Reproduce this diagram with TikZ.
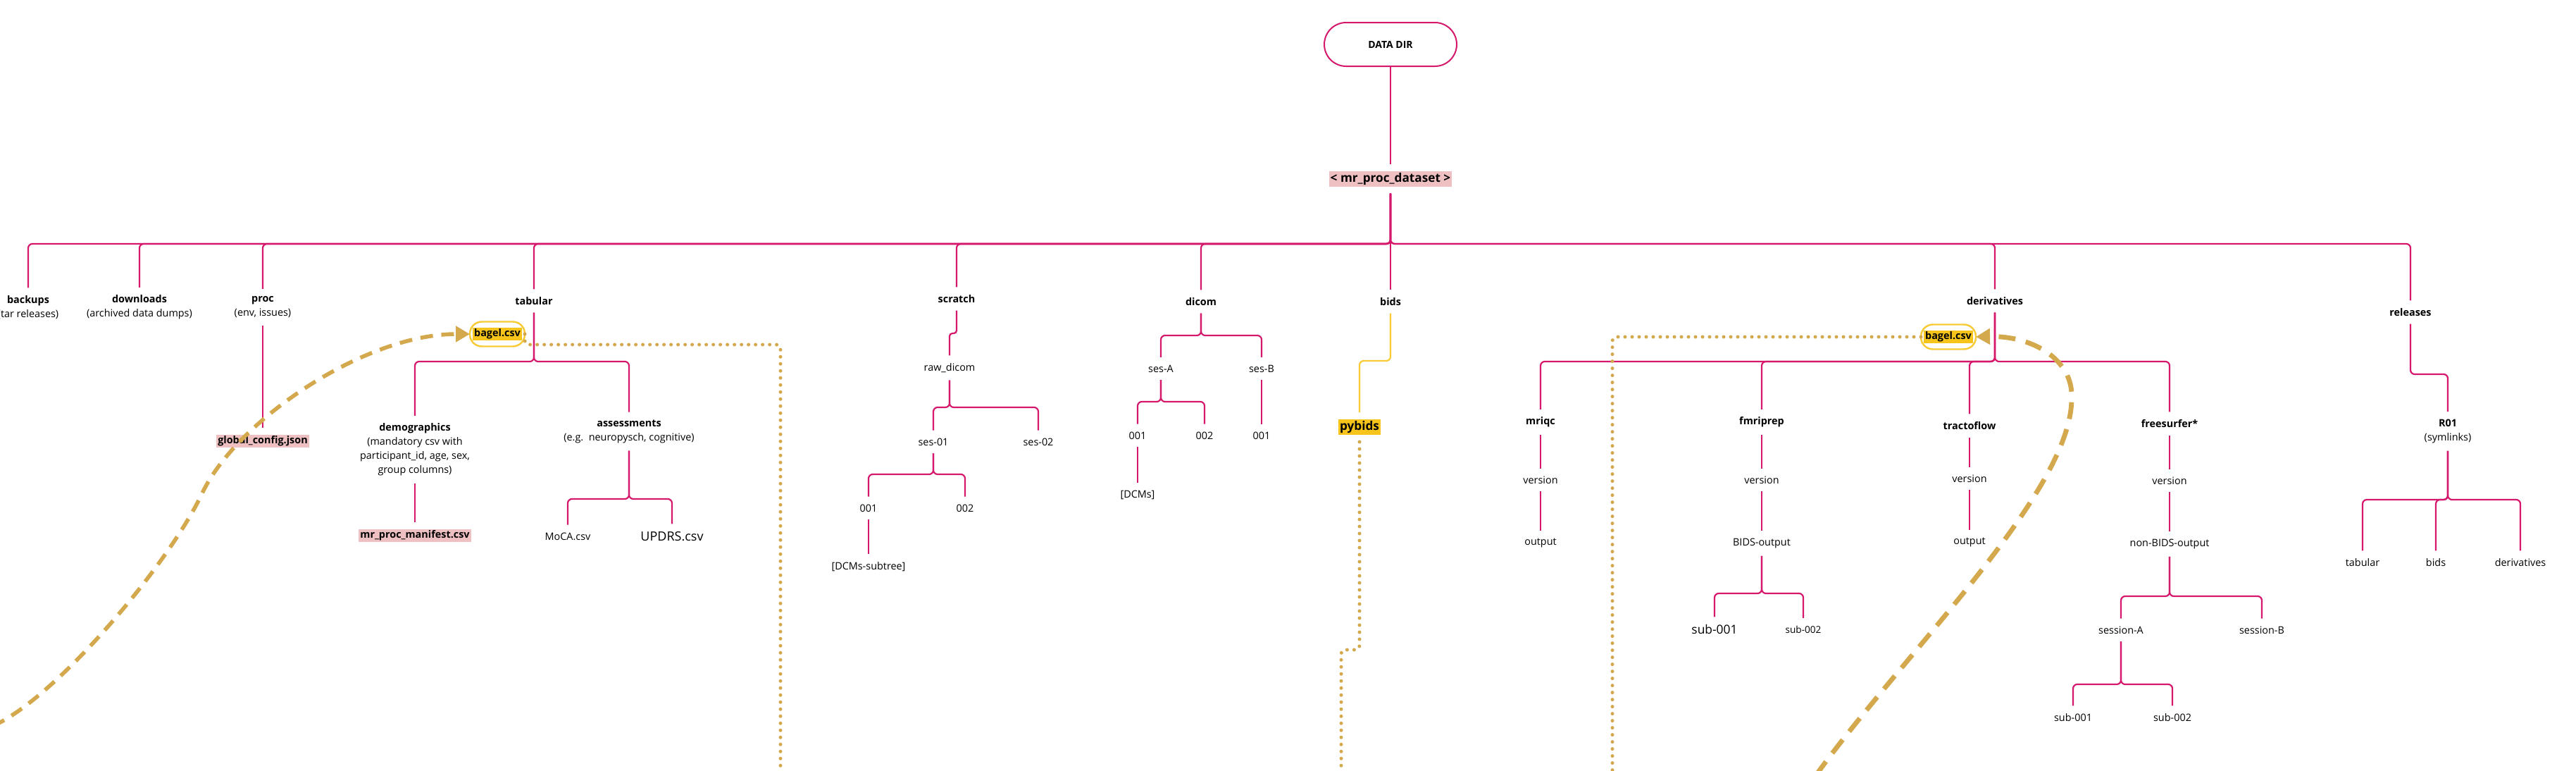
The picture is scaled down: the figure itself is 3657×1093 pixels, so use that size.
\documentclass[tikz,border=0pt]{standalone}
\usepackage{fontspec}
\setmainfont{Open Sans}
\usetikzlibrary{arrows.meta}

\definecolor{treepink}{RGB}{214,24,108}
\definecolor{linkgold}{RGB}{212,168,76}
\definecolor{bidsyellow}{RGB}{248,202,52}
\definecolor{hlyellow}{RGB}{246,196,26}
\definecolor{hlpink}{RGB}{238,192,194}
\setlength{\fboxsep}{1pt}

\begin{document}
\begin{tikzpicture}[x=0.5pt, y=-0.5pt, font=\fontsize{7.2}{10}\selectfont,
    every node/.style={align=center, inner sep=1.5pt, outer sep=4pt},
    folder/.style={font=\fontsize{7.2}{10}\selectfont\bfseries},
    hlfile/.style={fill=hlpink, inner sep=1pt, outer sep=5pt, font=\fontsize{7.2}{10}\selectfont\bfseries},
    bagelpill/.style={draw=bidsyellow, line width=1.2pt, fill=white, rounded corners=8.5pt,
        minimum width=39pt, minimum height=17.5pt, inner sep=1pt, outer sep=0pt,
        font=\fontsize{7.2}{10}\selectfont\bfseries},
    treeline/.style={draw=treepink, line width=1.1pt, rounded corners=3pt},
    dotlink/.style={draw=linkgold, line width=2.5pt, line cap=round, dash pattern=on 0pt off 5pt, rounded corners=3pt},
    dashlink/.style={draw=linkgold, line width=2.8pt, dash pattern=on 9pt off 6pt,
        -{Triangle[length=10pt,width=11pt]}}]

    % Page
    \useasboundingbox (0,0) rectangle (3657,1093);
    \clip (0,0) rectangle (3657,1093);
    \fill[white] (0,0) rectangle (3657,1093);

    % Root
    \node[draw=treepink, line width=1pt, rounded corners=15.5pt, minimum width=94pt, minimum height=31pt,
        outer sep=0pt, font=\fontsize{7}{9}\selectfont\bfseries] (datadir) at (1974,63) {DATA DIR};
    \node[hlfile, font=\fontsize{8.6}{10}\selectfont\bfseries] (dataset) at (1974,254) {< mr\_proc\_dataset >};
    \coordinate (mainbar) at (0,346);

    % Top Level Folders
    \node (backups) at (40,436) {\textbf{backups}\\(tar releases)};
    \node (downloads) at (198,436) {\textbf{downloads}\\(archived data dumps)};
    \node (proc) at (373,436) {\textbf{proc}\\(env, issues)};
    \node[folder] (tabular) at (758,427) {tabular};
    \node[folder] (scratch) at (1358,424) {scratch};
    \node[folder] (dicom) at (1705,428) {dicom};
    \node[folder] (bids) at (1974,428) {bids};
    \node[folder] (derivatives) at (2832,427) {derivatives};
    \node[folder] (releases) at (3422,443) {releases};

    % -- proc
    \node[hlfile] (gconf) at (373,626) {global\_config.json};

    % -- tabular
    \node[bagelpill] (bagelA) at (706,474) {\colorbox{hlyellow}{bagel.csv}};
    \coordinate (tabsplit) at (0,513);
    \node (demographics) at (589,638) {\textbf{demographics}\\(mandatory csv with\\participant\_id, age, sex,\\group columns)};
    \node[hlfile] (manifest) at (589,760) {mr\_proc\_manifest.csv};
    \node (assessments) at (893,612) {\textbf{assessments}\\(e.g.\ \ neuropysch, cognitive)};
    \coordinate (asssplit) at (0,708);
    \node (moca) at (806,761) {MoCA.csv};
    \node[font=\fontsize{9}{10}\selectfont] (updrs) at (954,761) {UPDRS.csv};

    % -- scratch
    \coordinate (scrjog) at (0,473);
    \node (rawdicom) at (1348,522) {raw\_dicom};
    \coordinate (rawsplit) at (0,578);
    \node (ses01) at (1325,627) {ses-01};
    \node (ses02) at (1474,627) {ses-02};
    \coordinate (ses01split) at (0,673);
    \node (scr001) at (1233,721) {001};
    \node (scr002) at (1370,721) {002};
    \node (dcmsubtree) at (1233,804) {[DCMs-subtree]};

    % -- dicom
    \coordinate (dicomsplit) at (0,476);
    \node (sesA) at (1648,523) {ses-A};
    \node (sesB) at (1791,523) {ses-B};
    \coordinate (sesAsplit) at (0,570);
    \node (dcmA1) at (1615,618) {001};
    \node (dcmA2) at (1710,618) {002};
    \node (dcmB1) at (1791,618) {001};
    \node (dcms) at (1615,702) {[DCMs]};

    % -- bids
    \coordinate (bidsjog) at (0,512);
    \node[fill=hlyellow, inner sep=1.2pt, outer sep=5pt, font=\fontsize{8.6}{10}\selectfont\bfseries] (pybids) at (1930,606) {pybids};

    % -- derivatives
    \node[bagelpill] (bagelB) at (2766,478) {\colorbox{hlyellow}{bagel.csv}};
    \coordinate (derivsplit) at (0,513);
    \node[folder] (mriqc) at (2187,599) {mriqc};
    \node (mriqcver) at (2187,681) {version};
    \node (mriqcout) at (2187,770) {output};
    \node[folder] (fmriprep) at (2501,599) {fmriprep};
    \node (fmriver) at (2501,681) {version};
    \node (fmribids) at (2501,771) {BIDS-output};
    \coordinate (fmrisplit) at (0,842);
    \node[font=\fontsize{8.7}{10}\selectfont] (fmrisub1) at (2434,893) {sub-001};
    \node[font=\fontsize{6.8}{10}\selectfont] (fmrisub2) at (2560,893) {sub-002};
    \node[folder] (tractoflow) at (2796,604) {tractoflow};
    \node (tractover) at (2796,679) {version};
    \node (tractoout) at (2796,769) {output};
    \node[folder] (freesurfer) at (3080,601) {freesurfer*};
    \node (fsver) at (3080,682) {version};
    \node (fsnonbids) at (3080,772) {non-BIDS-output};
    \coordinate (fssplit) at (0,846);
    \node (sessA) at (3011,894) {session-A};
    \node (sessB) at (3211,894) {session-B};
    \coordinate (sessAsplit) at (0,971);
    \node (fssub1) at (2943,1018) {sub-001};
    \node (fssub2) at (3084,1018) {sub-002};

    % -- releases
    \coordinate (reljog) at (0,531);
    \node (r01) at (3475,612) {\textbf{R01}\\(symlinks)};
    \coordinate (r01split) at (0,709);
    \node (reltabular) at (3354,798) {tabular};
    \node (relbids) at (3458,798) {bids};
    \node (relderiv) at (3578,798) {derivatives};

    % Draw Tree Lines
    \draw[treeline] (datadir.south) -- (dataset.north);
    \draw[treeline] (dataset.south) -- (bids.north);
    \draw[treeline] (dataset.south) -- (dataset.south |- mainbar) -| (backups.north);
    \draw[treeline] (dataset.south) -- (dataset.south |- mainbar) -| (downloads.north);
    \draw[treeline] (dataset.south) -- (dataset.south |- mainbar) -| (proc.north);
    \draw[treeline] (dataset.south) -- (dataset.south |- mainbar) -| (tabular.north);
    \draw[treeline] (dataset.south) -- (dataset.south |- mainbar) -| (scratch.north);
    \draw[treeline] (dataset.south) -- (dataset.south |- mainbar) -| (dicom.north);
    \draw[treeline] (dataset.south) -- (dataset.south |- mainbar) -| (derivatives.north);
    \draw[treeline] (dataset.south) -- (dataset.south |- mainbar) -| (releases.north);

    % -- proc and tabular
    \draw[treeline] (proc.south) -- (gconf.north);
    \draw[treeline] (tabular.south) -- (tabular.south |- tabsplit) -| (demographics.north);
    \draw[treeline] (tabular.south) -- (tabular.south |- tabsplit) -| (assessments.north);
    \draw[treeline] (demographics.south) -- (manifest.north);
    \draw[treeline] (assessments.south) -- (assessments.south |- asssplit) -| (moca.north);
    \draw[treeline] (assessments.south) -- (assessments.south |- asssplit) -| (updrs.north);

    % -- scratch
    \draw[treeline, rounded corners=2pt] (scratch.south) -- (scratch.south |- scrjog) -| (rawdicom.north);
    \draw[treeline] (rawdicom.south) -- (rawdicom.south |- rawsplit) -| (ses01.north);
    \draw[treeline] (rawdicom.south) -- (rawdicom.south |- rawsplit) -| (ses02.north);
    \draw[treeline] (ses01.south) -- (ses01.south |- ses01split) -| (scr001.north);
    \draw[treeline] (ses01.south) -- (ses01.south |- ses01split) -| (scr002.north);
    \draw[treeline] (scr001.south) -- (dcmsubtree.north);

    % -- dicom
    \draw[treeline] (dicom.south) -- (dicom.south |- dicomsplit) -| (sesA.north);
    \draw[treeline] (dicom.south) -- (dicom.south |- dicomsplit) -| (sesB.north);
    \draw[treeline] (sesA.south) -- (sesA.south |- sesAsplit) -| (dcmA1.north);
    \draw[treeline] (sesA.south) -- (sesA.south |- sesAsplit) -| (dcmA2.north);
    \draw[treeline] (sesB.south) -- (dcmB1.north);
    \draw[treeline] (dcmA1.south) -- (dcms.north);

    % -- bids
    \draw[treeline, draw=bidsyellow] (bids.south) -- (bids.south |- bidsjog) -| (pybids.north);

    % -- derivatives
    \draw[treeline] (derivatives.south) -- (derivatives.south |- derivsplit) -| (mriqc.north);
    \draw[treeline] (derivatives.south) -- (derivatives.south |- derivsplit) -| (fmriprep.north);
    \draw[treeline] (derivatives.south) -- (derivatives.south |- derivsplit) -| (tractoflow.north);
    \draw[treeline] (derivatives.south) -- (derivatives.south |- derivsplit) -| (freesurfer.north);
    \draw[treeline] (mriqc.south) -- (mriqcver.north);
    \draw[treeline] (mriqcver.south) -- (mriqcout.north);
    \draw[treeline] (fmriprep.south) -- (fmriver.north);
    \draw[treeline] (fmriver.south) -- (fmribids.north);
    \draw[treeline] (fmribids.south) -- (fmribids.south |- fmrisplit) -| (fmrisub1.north);
    \draw[treeline] (fmribids.south) -- (fmribids.south |- fmrisplit) -| (fmrisub2.north);
    \draw[treeline] (tractoflow.south) -- (tractover.north);
    \draw[treeline] (tractover.south) -- (tractoout.north);
    \draw[treeline] (freesurfer.south) -- (fsver.north);
    \draw[treeline] (fsver.south) -- (fsnonbids.north);
    \draw[treeline] (fsnonbids.south) -- (fsnonbids.south |- fssplit) -| (sessA.north);
    \draw[treeline] (fsnonbids.south) -- (fsnonbids.south |- fssplit) -| (sessB.north);
    \draw[treeline] (sessA.south) -- (sessA.south |- sessAsplit) -| (fssub1.north);
    \draw[treeline] (sessA.south) -- (sessA.south |- sessAsplit) -| (fssub2.north);

    % -- releases
    \draw[treeline] (releases.south) -- (releases.south |- reljog) -| (r01.north);
    \draw[treeline] (r01.south) -- (r01.south |- r01split) -| (reltabular.north);
    \draw[treeline] (r01.south) -- (r01.south |- r01split) -| (relbids.north);
    \draw[treeline] (r01.south) -- (r01.south |- r01split) -| (relderiv.north);

    % Dotted Links
    \coordinate (dotAcorner) at (1108,489);
    \coordinate (dotAend) at (1108,1110);
    \coordinate (dotBend) at (2289,1110);
    \coordinate (pyjog) at (0,922);
    \coordinate (pyend) at (1904,1110);
    \draw[dotlink] (bagelA.east) |- (dotAcorner) -- (dotAend);
    \draw[dotlink] (bagelB.west) -| (dotBend);
    \draw[dotlink] (pybids.south) -- (pybids.south |- pyjog) -| (pyend);

    % Dashed Links
    \coordinate (curveAstart) at (-10,1030);
    \coordinate (curveAmid) at (287,700);
    \coordinate (curveBstart) at (2578,1100);
    \coordinate (curveBmid) at (2941,566);
    \draw[dashlink] (curveAstart) .. controls (80,990) and (240,800) .. (curveAmid)
        .. controls (335,598) and (516,474) .. (bagelA.west);
    \draw[dashlink, line width=3.4pt, dash pattern=on 12pt off 7.5pt] (curveBstart)
        .. controls (2700,930) and (2940,700) .. (curveBmid)
        .. controls (2944,510) and (2885,476) .. (bagelB.east);
\end{tikzpicture}
\end{document}
